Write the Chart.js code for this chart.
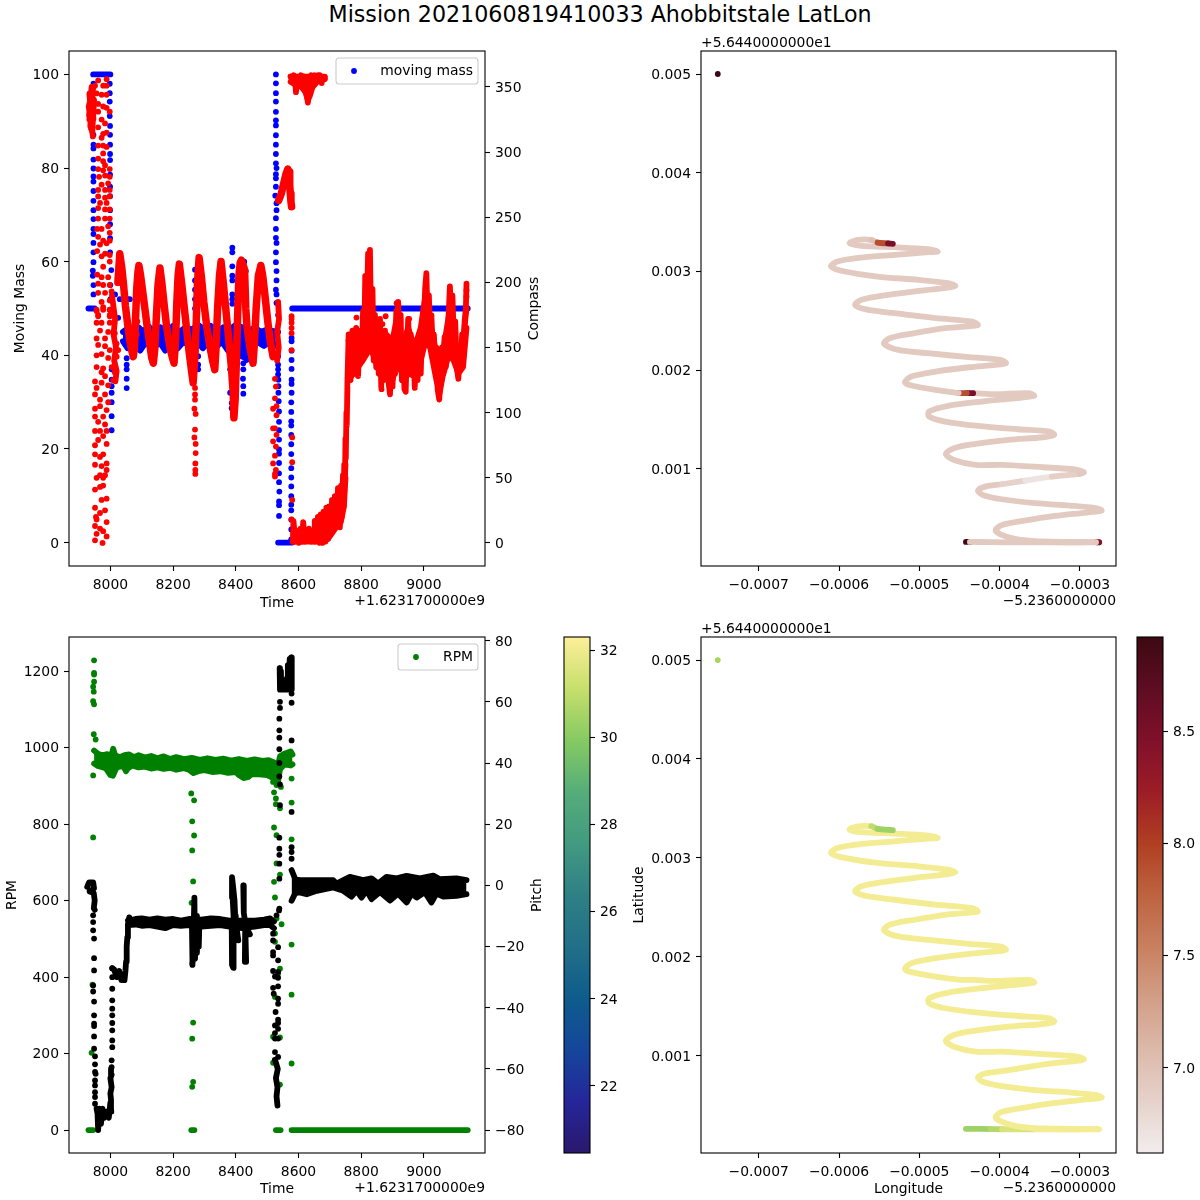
<!DOCTYPE html>
<html>
<head>
<meta charset="utf-8">
<script src="https://cdn.jsdelivr.net/npm/chart.js@4/dist/chart.umd.js"></script>
<style>
  body { margin: 0; background: #fff; width: 1200px; height: 1200px; position: relative; overflow: hidden; }
  canvas { position: absolute; }
  #title { position: absolute; left: 0; width: 1200px; top: 1px; text-align: center; font: 22.2px "DejaVu Sans"; color: #000; }
</style>
</head>
<body>
<div id="title">Mission 2021060819410033 Ahobbitstale LatLon</div>
<canvas id="massChart" style="left:0;top:30px" width="560" height="584"></canvas>
<canvas id="trackAmpChart" style="left:600px;top:30px" width="530" height="584"></canvas>
<canvas id="rpmChart" style="left:0;top:616px" width="560" height="584"></canvas>
<canvas id="haleBar" style="left:556px;top:616px" width="100" height="584"></canvas>
<canvas id="trackHaleChart" style="left:600px;top:616px" width="530" height="584"></canvas>
<canvas id="ampBar" style="left:1129px;top:616px" width="71" height="584"></canvas>
<script>
// ticks
const timeTicks = [8000, 8200, 8400, 8600, 8800, 9000];
const timeTickLabels = ['8000', '8200', '8400', '8600', '8800', '9000'];
const massTicks = [0, 20, 40, 60, 80, 100];
const massTickLabels = ['0', '20', '40', '60', '80', '100'];
const compassTicks = [0, 50, 100, 150, 200, 250, 300, 350];
const compassTickLabels = ['0', '50', '100', '150', '200', '250', '300', '350'];
const rpmTicks = [0, 200, 400, 600, 800, 1000, 1200];
const rpmTickLabels = ['0', '200', '400', '600', '800', '1000', '1200'];
const pitchTicks = [-80, -60, -40, -20, 0, 20, 40, 60, 80];
const pitchTickLabels = ['−80', '−60', '−40', '−20', '0', '20', '40', '60', '80'];
// lon and lat are kept in millionths of a degree from the axis offsets
const lonTicks = [-700, -600, -500, -400, -300];
const lonTickLabels = ['−0.0007', '−0.0006', '−0.0005', '−0.0004', '−0.0003'];
const latTicks = [1000, 2000, 3000, 4000, 5000];
const latTickLabels = ['0.001', '0.002', '0.003', '0.004', '0.005'];
const haleTicks = [22, 24, 26, 28, 30, 32];
const haleTickLabels = ['22', '24', '26', '28', '30', '32'];
const ampTicks = [7, 7.5, 8, 8.5];
const ampTickLabels = ['7.0', '7.5', '8.0', '8.5'];

// moving mass, [time, percent]
const massStart = [[7930, 50], [7950, 50]];
const massTop = [[7945, 100], [8000, 100]];
const massColumnA = [[7946, 98], [7946, 87.1], [7946, 85], [7946, 84.2], [7946, 81.8], [7946, 79.9], [7946, 78.2], [7946, 77.1], [7946, 75.1], [7946, 73], [7946, 71], [7946, 69.1], [7946, 67], [7946, 65.9], [7946, 64], [7946, 62], [7946, 59.9], [7944, 58.1], [7944, 57], [7946, 55], [7946, 53]];
const massColumnB = [[7998, 98], [7998, 96], [7998, 94.2], [7998, 91.1], [7999, 89], [7999, 87.1], [7999, 85], [7999, 83], [7999, 81.7], [7999, 78.6], [7999, 76], [7999, 74], [7999, 71], [7999, 68], [7999, 65], [7999, 62], [8003, 58.2], [8000, 55], [8000, 52], [8004, 37], [8004, 34.8], [8004, 33.4], [8004, 32], [8004, 30], [8004, 27], [8004, 24]];
const massScatter = [[8015, 53], [8030, 52], [8045, 53], [8055, 52], [8062, 52], [8050, 50], [8025, 48], [8052, 39.4], [8052, 38], [8052, 37], [8052, 35], [8052, 33], [8270, 58.3], [8270, 56], [8270, 54], [8270, 52], [8270, 50], [8280, 39.8], [8280, 38], [8280, 37], [8389, 63], [8389, 62], [8389, 59], [8389, 57], [8389, 56], [8389, 53], [8389, 52], [8389, 51], [8427, 60], [8432, 58], [8430, 56], [8432, 52], [8382, 39], [8382, 37], [8387, 34.8], [8382, 32], [8387, 29.8], [8387, 28.7], [8392, 27.3], [8423, 39.8], [8424, 38.3], [8424, 37], [8423, 35], [8424, 33.4], [8424, 31.8], [8434, 39]];
const massBandTop = [[8040, 45], [8060, 46], [8075, 45], [8090, 46], [8105, 45], [8120, 46.3], [8140, 45], [8160, 46], [8180, 45], [8200, 46.3], [8220, 45], [8240, 46], [8260, 45.5], [8280, 46.5], [8300, 45.5], [8320, 46.3], [8340, 45], [8360, 46], [8380, 45.5], [8400, 46.5], [8420, 46], [8440, 45], [8460, 46], [8480, 45], [8500, 45.5], [8530, 45]];
const massBandBottom = [[8040, 43], [8055, 41.5], [8075, 43], [8095, 41], [8115, 43], [8135, 41], [8155, 43], [8175, 41], [8195, 43], [8215, 41.5], [8235, 43], [8255, 42], [8275, 43], [8295, 41.5], [8315, 43], [8335, 41.5], [8355, 43], [8375, 41], [8395, 42], [8410, 40], [8430, 39.5], [8445, 40], [8465, 43], [8490, 42], [8510, 43], [8530, 42.5]];
const massColumnC = [[8528, 100], [8528, 98.1], [8528, 96], [8528, 94.2], [8528, 92], [8528, 90.2], [8528, 89.1], [8528, 87], [8528, 85], [8528, 83], [8528, 81], [8530, 80], [8528, 78.7], [8528, 77.8], [8528, 76], [8526, 74.1], [8530, 72.5], [8530, 71], [8528, 69.3], [8528, 67], [8528, 65.1], [8530, 64], [8528, 62], [8528, 59.9], [8530, 58], [8530, 56], [8528, 54], [8530, 53], [8530, 51.2]];
const massColumnD = [[8535, 48.6], [8535, 45], [8530, 42], [8535, 39.8], [8535, 38], [8535, 37], [8535, 35.9], [8536, 34.8], [8536, 33.4], [8536, 32], [8537, 30.2], [8538, 28], [8538, 25.8], [8538, 24], [8538, 22], [8538, 19.9], [8538, 19], [8538, 17], [8538, 14.8], [8538, 12.9], [8539, 10.9], [8538, 8.8], [8538, 8], [8538, 5.7]];
const massFloor = [[8535, 0], [8580, 0]];
const massColumnE = [[8578, 43.7], [8578, 43], [8578, 41], [8578, 39], [8578, 37.1], [8578, 34.8], [8578, 33.9], [8578, 32], [8577, 29.95], [8577, 27.9], [8577, 25.9], [8577, 25], [8577, 23], [8577, 21], [8577, 18.9], [8577, 15.9], [8577, 13.9], [8577, 12], [8577, 9.9], [8577, 8.1], [8577, 6.9], [8577, 4.9], [8577, 2.8], [8577, 0.7]];
const massHold = [[8580, 50], [9140, 50]];

// compass, [time, degrees]
const compassCluster = [[7936, 320], [7940, 346], [7933, 325], [7945, 349], [7931, 335], [7942, 315], [7948, 340], [7933, 345], [7938, 330], [7944, 312], [7934, 338], [7946, 325], [7940, 350], [7932, 328], [7944, 332], [7938, 318]];
const compassScatter = [[7961, 355], [7988, 356], [7951, 351], [7977, 351], [7988, 351], [7956, 345], [7972, 344], [7988, 344], [7961, 337], [7977, 335], [7988, 334], [7961, 331], [7998, 331], [7972, 325], [7983, 322], [7961, 319], [7977, 314], [7988, 315], [7972, 311], [7961, 305], [7977, 305], [7988, 304], [7977, 299], [7961, 295], [7977, 293], [7983, 290], [7961, 287], [7977, 286], [7998, 287], [7964, 281], [7983, 282], [7998, 281], [7972, 275], [7993, 276], [7961, 271], [7983, 271], [7998, 271], [7961, 266], [7983, 265], [7998, 266], [7967, 261], [7988, 261], [7961, 257], [7983, 256], [7998, 256], [7961, 249], [7983, 249], [7998, 249], [7993, 243], [7958, 241], [7972, 241], [7998, 238], [7961, 235], [7977, 232], [7998, 232], [7967, 229], [7988, 230], [7958, 224], [7983, 222], [7998, 221], [7972, 220], [7998, 216], [7977, 212], [7958, 206], [7972, 204], [7993, 204], [7961, 199], [7977, 198], [7998, 198], [7961, 192], [7983, 192], [8004, 193], [7972, 185], [7998, 186], [7956, 178], [7977, 181], [7998, 179], [7961, 174], [7998, 174],
  [7956, 179], [7977, 179], [7998, 179], [7961, 175], [7998, 175], [7956, 169], [7972, 169], [7998, 169], [7967, 163], [7993, 162], [7956, 157], [7983, 157], [8014, 161], [7961, 152], [7983, 151], [8020, 153], [7972, 145], [7998, 148], [8025, 148], [7956, 144], [7993, 142], [7956, 135], [7977, 134], [8020, 143], [7972, 131], [8004, 135], [7983, 128], [8014, 131], [7951, 124], [7972, 123], [8009, 125], [7956, 119], [7993, 121], [7951, 114], [7983, 114], [7967, 110], [7993, 108], [7951, 103], [7967, 105], [7988, 102], [7951, 97], [7977, 97], [7961, 93], [7983, 91], [7951, 86], [7967, 86], [7988, 86], [7977, 82], [7961, 79], [7951, 75], [7988, 76], [7951, 68], [7977, 68], [7967, 66], [7988, 61], [7951, 60], [7972, 59], [7967, 52], [7988, 56], [7956, 50], [7977, 50], [7983, 52], [7951, 41], [7967, 43], [7977, 44], [7972, 33], [7988, 34], [7951, 27], [7983, 25], [7967, 23], [7954, 20], [7956, 18], [7988, 16], [7951, 13], [7967, 11], [7956, 7], [7977, 9], [7988, 5], [7951, 2], [7975, 0]];
const compassEarlyFall = [[8005, 190], [8015, 172], [8010, 160], [8018, 150], [8012, 140], [8020, 132], [8016, 124]];
const compassWaves = [[8024, 200], [8030, 222], [8036, 212], [8042, 198], [8048, 182], [8055, 168], [8062, 155], [8068, 148], [8073, 143], [8077, 150], [8080, 170], [8084, 195], [8088, 208], [8091, 213], [8096, 206], [8102, 195], [8110, 180], [8118, 165], [8126, 152], [8132, 142], [8137, 138], [8142, 150], [8147, 175], [8152, 198], [8158, 211], [8164, 200], [8172, 182], [8180, 165], [8190, 150], [8198, 142], [8203, 138], [8208, 155], [8212, 185], [8216, 205], [8220, 214], [8228, 198], [8236, 180], [8245, 160], [8252, 145], [8260, 130], [8264, 123], [8270, 145], [8274, 170], [8278, 200], [8283, 219], [8290, 205], [8298, 185], [8308, 165], [8318, 150], [8326, 140], [8333, 133], [8337, 150], [8342, 180], [8348, 205], [8353, 216], [8360, 200], [8368, 180], [8378, 155], [8386, 135], [8392, 115], [8394, 96], [8398, 110], [8402, 140], [8406, 175], [8410, 205], [8414, 215], [8418, 217], [8428, 210], [8432, 180], [8436, 165], [8445, 150], [8455, 138], [8460, 155], [8465, 180], [8472, 205], [8480, 213], [8486, 205], [8494, 188], [8502, 170], [8510, 155], [8519, 143]];
const compassSpikeDots = [[8270, 119], [8270, 114], [8270, 110], [8268, 103], [8272, 99], [8270, 87], [8268, 81], [8272, 76], [8272, 69], [8271, 61], [8271, 56], [8271, 53], [8086, 190], [8084, 185], [8086, 170], [8084, 160], [8150, 195], [8148, 180], [8146, 170], [8146, 160]];
const compassFallDots = [[8525, 126], [8528, 120], [8525, 111], [8530, 105], [8519, 103], [8530, 98], [8525, 88], [8519, 88], [8530, 83], [8519, 78], [8528, 74], [8525, 67], [8519, 61], [8528, 56], [8525, 53], [8525, 51]];
const compassReturn = [[8535, 185], [8538, 172], [8532, 162], [8537, 150], [8532, 140]];
const compassHump = [[8537, 263], [8545, 268], [8552, 275], [8560, 283], [8566, 287], [8570, 285], [8572, 275], [8574, 268], [8576, 262], [8578, 258]];
const compassPeakTop = [[8575, 358], [8580, 354], [8585, 359], [8590, 352], [8592, 346], [8596, 358], [8602, 353], [8608, 359], [8612, 350], [8618, 358], [8622, 350], [8626, 345], [8630, 338], [8633, 345], [8636, 352], [8640, 359], [8646, 352], [8652, 359], [8656, 354], [8662, 359], [8668, 359], [8674, 357], [8684, 357]];
const compassPeakUpper = [[8575, 358], [8684, 358]];
const compassPeakLower = [[8575, 354], [8595, 351], [8610, 350], [8622, 346], [8630, 340], [8636, 343], [8645, 350], [8660, 354], [8684, 356]];
const compassDropDots = [[8578, 174], [8578, 172], [8578, 169], [8578, 165], [8578, 161], [8578, 148], [8580, 81], [8580, 62], [8580, 33], [8578, 18], [8674, 353], [8785, 173], [8878, 174], [8868, 168], [8865, 118], [8953, 172], [8913, 184], [9136, 194], [9136, 189]];
const compassClimb = [[8582, 1], [8584, 17], [8590, 1], [8595, 9], [8601, 0], [8606, 11], [8612, 1], [8615, 16], [8621, 1], [8625, 9], [8631, 2], [8634, 11], [8640, 1], [8644, 6], [8650, 1], [8652, 17], [8658, 1], [8662, 20], [8668, 0], [8671, 22], [8677, 0], [8680, 24], [8686, 1], [8689, 27], [8695, 3], [8698, 28], [8704, 8], [8707, 33], [8713, 13], [8716, 36], [8722, 14], [8726, 42], [8732, 12], [8736, 44], [8738, 20], [8742, 52], [8744, 28], [8746, 60], [8748, 45], [8750, 80], [8751, 65], [8753, 100], [8754, 90], [8756, 120]];
const compassClimbUpper = [[8582, 3], [8610, 5], [8650, 4], [8670, 8], [8690, 12], [8710, 18], [8730, 26], [8745, 38], [8750, 60]];
const compassClimbLower = [[8582, 1], [8650, 1], [8680, 2], [8700, 5], [8720, 12], [8735, 16], [8745, 28], [8750, 50]];
const compassTail = [[8756, 122], [8760, 160], [8766, 125], [8772, 163], [8778, 130], [8784, 165], [8790, 128], [8796, 163], [8802, 145], [8806, 178], [8810, 160], [8813, 205], [8817, 168], [8822, 222], [8826, 175], [8828, 225], [8832, 160], [8836, 195], [8840, 140], [8844, 175], [8848, 135], [8852, 168], [8856, 130], [8860, 172], [8864, 120], [8868, 155], [8872, 125], [8876, 163], [8880, 128], [8884, 158], [8888, 122], [8892, 114], [8896, 150], [8900, 120], [8904, 160], [8908, 130], [8912, 178], [8916, 150], [8918, 185], [8922, 145], [8926, 175], [8930, 125], [8934, 150], [8938, 118], [8942, 116], [8946, 150], [8950, 172], [8954, 140], [8958, 160], [8962, 135], [8966, 155], [8971, 119], [8975, 150], [8980, 125], [8985, 160], [8990, 130], [8995, 170], [9000, 165], [9004, 195], [9008, 207], [9012, 170], [9016, 190], [9020, 160], [9024, 175], [9028, 150], [9032, 160], [9036, 135], [9040, 150], [9044, 118], [9049, 110], [9053, 125], [9058, 150], [9062, 130], [9066, 158], [9070, 135], [9076, 160], [9080, 180], [9083, 197], [9087, 175], [9091, 190], [9096, 155], [9100, 170], [9105, 135], [9110, 126], [9114, 150], [9118, 135], [9122, 160], [9126, 145], [9130, 170], [9134, 180], [9136, 199]];
const compassBodyUpper = [[8760, 155], [8805, 160], [8830, 170], [8860, 160], [8880, 160], [8900, 155], [8915, 175], [8930, 150], [8950, 165], [8970, 150], [8990, 165], [9005, 190], [9020, 170], [9040, 145], [9050, 125], [9060, 145], [9080, 175], [9095, 160], [9110, 140], [9125, 155], [9136, 180]];
const compassBodyLower = [[8760, 125], [8805, 140], [8830, 150], [8860, 130], [8880, 130], [8900, 125], [8915, 140], [8930, 130], [8950, 130], [8970, 128], [8990, 140], [9005, 155], [9020, 150], [9040, 125], [9050, 115], [9060, 128], [9080, 145], [9095, 140], [9110, 130], [9125, 135], [9136, 165]];

// rpm, [time, rpm]
const rpmDots = [[7948, 1228], [7948, 1195], [7948, 1191], [7948, 1172], [7945, 1159], [7947, 1146], [7945, 1121], [7948, 1113], [7947, 1035], [7953, 1021], [7945, 927], [7945, 765], [8258, 880], [8267, 862], [8261, 807], [8267, 770], [8261, 731], [8264, 650], [8259, 594], [8522, 883], [8528, 867], [8528, 852], [8541, 841], [8522, 791], [8530, 771], [8578, 919], [8578, 856], [8578, 760], [8522, 649], [8525, 608], [8530, 697], [8541, 668], [8544, 897],
  [7943, 380], [7940, 202], [8261, 435], [8264, 281], [8261, 239], [8264, 126], [8261, 113], [8525, 348], [8519, 244], [8519, 176], [8541, 242], [8541, 119], [8541, 422], [8578, 485], [8578, 354], [8578, 174], [8530, 553], [8546, 538], [8525, 514], [8525, 492], [8535, 409], [8519, 910], [8530, 902]];
const rpmFloorA = [[7930, 0], [7945, 0]];
const rpmFloorB = [[8258, 0], [8268, 0]];
const rpmFloorC = [[8528, 0], [8543, 0]];
const rpmFloorD = [[8578, 0], [9140, 0]];
const rpmBandTop = [[7948, 992], [7960, 984], [7975, 980], [7990, 983], [8003, 978], [8009, 997], [8015, 980], [8030, 975], [8045, 980], [8060, 982], [8075, 975], [8090, 980], [8110, 974], [8130, 978], [8150, 972], [8170, 977], [8190, 970], [8210, 975], [8235, 970], [8260, 973], [8285, 968], [8310, 972], [8335, 968], [8360, 971], [8385, 966], [8410, 970], [8435, 965], [8460, 969], [8485, 965], [8505, 967], [8520, 962], [8535, 955], [8541, 977], [8555, 984], [8575, 990], [8581, 982]];
const rpmBandBottom = [[7948, 958], [7960, 952], [7985, 946], [8000, 928], [8008, 926], [8020, 948], [8040, 952], [8050, 938], [8056, 946], [8070, 953], [8090, 948], [8110, 950], [8130, 945], [8150, 948], [8170, 944], [8190, 947], [8210, 942], [8235, 946], [8250, 942], [8265, 933], [8280, 938], [8300, 941], [8325, 936], [8350, 938], [8375, 934], [8400, 936], [8410, 928], [8425, 920], [8440, 923], [8450, 930], [8475, 930], [8500, 928], [8520, 920], [8535, 912], [8541, 943], [8555, 956], [8575, 953], [8581, 956]];

// pitch, [time, degrees]
const pitchStart = [[7926, -0.5], [7932, 1], [7945, 1], [7948, -1], [7934, -2], [7947, -2.5], [7950, -5], [7947, -7.5], [7950, -8]];
const pitchDiveDots = [[7945, -9.8], [7945, -12], [7945, -14.7], [7948, -17.4], [7948, -23.8], [7948, -27.8], [7945, -32.7], [7945, -34.7], [7948, -38], [7948, -42.5], [7948, -45.2], [7948, -46], [7948, -49.4], [7948, -53.4], [7951, -55.9], [7951, -58.5], [7951, -61], [7953, -61.6], [7951, -63.8], [7951, -65.4], [7951, -67.6], [7951, -69.2], [7951, -71.4]];
const pitchTrough = [[7956, -73], [7959, -74.7], [7961, -80], [7965, -73], [7970, -78], [7975, -73], [7980, -76], [7988, -74], [7995, -76], [8000, -71], [8003, -74], [8002, -70], [8000, -68], [8004, -66], [8000, -63], [8004, -62], [8002, -60]];
const pitchRiseDots = [[8004, -59.4], [8004, -57.2], [8006, -52.9], [8006, -50.7], [8006, -47.4], [8006, -45], [8006, -42.5], [8006, -40.3], [8006, -37.6], [8006, -33.8], [8006, -30], [8006, -27.2]];
const pitchStep = [[8006, -27], [8012, -27.5], [8020, -30], [8028, -28], [8035, -31], [8045, -31], [8048, -28], [8050, -25], [8052, -20], [8054, -17], [8056, -13], [8060, -10.5]];
const pitchBandTop = [[8056, -11.5], [8080, -11], [8100, -10.8], [8125, -11.2], [8150, -10.8], [8175, -11.2], [8200, -11], [8225, -11.5], [8250, -11], [8290, -11.2], [8320, -10.8], [8350, -11], [8380, -11.5], [8420, -11.5], [8460, -11.5], [8490, -11.2], [8510, -10.8], [8522, -11.8]];
const pitchBandBottom = [[8056, -13], [8080, -12.8], [8100, -13.2], [8125, -13], [8150, -13.5], [8175, -14], [8200, -13], [8225, -13.2], [8250, -13], [8290, -13.5], [8320, -13.2], [8350, -13], [8380, -13.5], [8420, -14], [8460, -13.5], [8490, -13], [8510, -13], [8522, -14]];
const pitchSpikeA = [[8260, -12], [8262, -26], [8266, -12], [8268, -4], [8270, -24], [8274, -10], [8276, -22], [8280, -12], [8282, -20], [8284, -12]];
const pitchSpikeB = [[8387, -12], [8388, -26], [8392, -27], [8393, -10], [8390, -4], [8388, 2.7], [8392, -1], [8396, -5], [8398, -10], [8400, -14], [8404, -15], [8408, -18]];
const pitchSpikeC = [[8424, 0], [8426, -4], [8425, -9], [8430, -12], [8433, -25], [8429, -25], [8430, -14], [8440, -15], [8445, -16]];
const pitchFallDots = [[8538, -8.2], [8530, -9.8], [8519, -15.8], [8519, -18], [8535, -20.2], [8519, -21.8], [8519, -22.9], [8535, -24.5], [8519, -28], [8525, -29.8], [8535, -28.3], [8535, -30.2], [8519, -33.5], [8535, -33], [8521, -35.4], [8535, -37], [8535, -38.7], [8527, -41.4], [8535, -43.9], [8535, -45], [8525, -45.8], [8525, -48.3], [8535, -46.9], [8525, -50.1], [8535, -50.1], [8525, -54.5], [8535, -56.1]];
const pitchFallEnd = [[8525, -57], [8534, -60], [8528, -63], [8533, -66], [8530, -69], [8533, -72]];
const pitchClimbDots = [[8541, 60], [8541, 58], [8539, 54.5], [8539, 50.7], [8539, 48.3], [8539, 44.5], [8539, 40], [8539, 35.6], [8541, 33], [8541, 26.2], [8539, 15.6], [8539, 12], [8539, 10], [8539, 7.1], [8539, 2.2], [8539, -7.6], [8578, 62.7], [8578, 59.7], [8578, 47.4], [8578, 24], [8578, 12.5], [8578, 10.9], [8578, 8.7]];
const pitchPeak = [[8540, 71], [8541, 64], [8544, 70], [8545, 64], [8552, 67], [8553, 64], [8558, 67], [8559, 64], [8564, 68], [8566, 72], [8568, 64], [8572, 74], [8574, 65], [8577, 74.5], [8578, 64], [8579, 74]];
const pitchTailTop = [[8578, 5], [8590, 2], [8604, 1.7], [8711, 1.7], [8721, 0.6], [8764, 2.8], [8806, 1.7], [8833, 2.3], [8854, 0.6], [8881, 2.8], [8913, 2.3], [8945, 3.1], [8987, 2.3], [9030, 3.2], [9051, 2], [9104, 2.3], [9136, 1.7]];
const pitchTailBottom = [[8578, -5], [8590, -2.5], [8604, -2.3], [8626, -2.9], [8658, -1.8], [8711, -0.7], [8743, -1.8], [8769, -3.7], [8785, -1.7], [8801, -4], [8817, -1.7], [8833, -4.5], [8860, -2.2], [8892, -5], [8918, -2.7], [8945, -5.6], [8961, -2.7], [8977, -4], [9003, -2.2], [9024, -5.6], [9040, -2.7], [9062, -3.7], [9104, -3.4], [9136, -2.9]];

// glider track, millionths of a degree
const trackLon = [-442, -437, -411, -397, -356, -313, -279, -276, -280, -313,
  -356, -381, -399, -405, -397, -371, -331, -292, -273, -279,
  -313, -356, -397, -421, -427, -418, -397, -368, -335, -301,
  -295, -305, -346, -397, -430, -455, -467, -457, -430, -389,
  -346, -332, -338, -377, -427, -468, -488, -488, -464, -422,
  -381, -357, -363, -405, -431, -433, -441, -451, -480, -510,
  -518, -510, -480, -438, -405, -392, -399, -438, -489, -526,
  -544, -537, -506, -468, -434, -427, -434, -480, -531, -568,
  -580, -572, -539, -497, -464, -455, -464, -501, -552, -593,
  -610, -602, -572, -531, -489, -477, -489, -531, -572, -587,
  -576, -560, -552, -539, -533];
const trackLat = [261, 261, 259, 257, 257, 254, 257, 257, 259, 261,
  268, 291, 338, 382, 433, 474, 524, 558, 578, 602,
  629, 653, 693, 737, 781, 821, 845, 882, 923, 950,
  967, 994, 1017, 1041, 1041, 1085, 1149, 1210, 1254, 1294,
  1321, 1345, 1379, 1402, 1436, 1480, 1531, 1581, 1639, 1683,
  1716, 1740, 1767, 1757, 1767, 1767, 1767, 1769, 1801, 1845,
  1878, 1936, 1986, 2030, 2054, 2071, 2105, 2132, 2172, 2206,
  2267, 2324, 2375, 2425, 2449, 2459, 2493, 2527, 2577, 2618,
  2662, 2713, 2763, 2807, 2837, 2854, 2881, 2915, 2949, 3000,
  3050, 3101, 3141, 3168, 3195, 3202, 3226, 3246, 3260, 3287,
  3320, 3320, 3293, 3284, 3280];
const trackAmp = [8.9, 6.92, 6.92, 6.92, 6.92, 6.92, 8.3, 8.4, 6.92, 6.92,
  6.92, 6.92, 6.92, 6.92, 6.92, 6.92, 6.92, 6.92, 6.92, 6.92,
  6.92, 6.92, 6.92, 6.92, 6.92, 6.92, 6.85, 6.7, 6.88, 6.92,
  6.92, 6.92, 6.92, 6.92, 6.92, 6.92, 6.92, 6.92, 6.92, 6.92,
  6.92, 6.92, 6.92, 6.92, 6.92, 6.92, 6.92, 6.92, 6.92, 6.92,
  6.92, 6.92, 6.92, 6.92, 6.92, 8.5, 7.9, 6.92, 6.92, 6.92,
  6.92, 6.92, 6.92, 6.92, 6.92, 6.92, 6.92, 6.92, 6.92, 6.92,
  6.92, 6.92, 6.92, 6.92, 6.92, 6.92, 6.92, 6.92, 6.92, 6.92,
  6.92, 6.92, 6.92, 6.92, 6.92, 6.92, 6.92, 6.92, 6.92, 6.92,
  6.92, 6.92, 6.92, 6.92, 6.92, 6.92, 6.92, 6.92, 6.92, 6.92,
  6.92, 7.0, 7.9, 8.5, 8.9];
const trackHale = [30.4, 30.4, 30.8, 31.5, 32.1, 32.1, 32.1, 32.1, 32.1, 32.1,
  32.1, 32.1, 32.1, 32.1, 32.1, 32.1, 32.1, 32.1, 32.1, 32.1,
  32.1, 32.1, 32.1, 32.1, 32.1, 32.1, 32.1, 32.1, 32.1, 32.1,
  32.1, 32.1, 32.1, 32.1, 32.1, 32.1, 32.1, 32.1, 32.1, 32.1,
  32.1, 32.1, 32.1, 32.1, 32.1, 32.1, 32.1, 32.1, 32.1, 32.1,
  32.1, 32.1, 32.1, 32.1, 32.1, 32.1, 32.1, 32.1, 32.1, 32.1,
  32.1, 32.1, 32.1, 32.1, 32.1, 32.1, 32.1, 32.1, 32.1, 32.1,
  32.1, 32.1, 32.1, 32.1, 32.1, 32.1, 32.1, 32.1, 32.1, 32.1,
  32.1, 32.1, 32.1, 32.1, 32.1, 32.1, 32.1, 32.1, 32.1, 32.1,
  32.1, 32.1, 32.1, 32.1, 32.1, 32.1, 32.1, 32.1, 32.1, 32.1,
  32.1, 31, 30.4, 30.4, 30.4];
const trackStart = [[-751, 5000]];

// colormaps, bottom to top of the colorbars
const ampRange = [6.62, 8.92];
const ampStops = ['#f1edec', '#e6d2cb', '#dcb9aa', '#d29e87', '#c8805f', '#bd6340', '#b03f22', '#9c1d26', '#80102a', '#5e0d22', '#3c0912'];
const haleRange = [20.46, 32.3];
const haleStops = ['#2a186c', '#25269a', '#15469b', '#0e5c8c', '#226f88', '#2f8085', '#429a81', '#55ad7a', '#86ca62', '#c6df6c', '#fdef9a'];

Chart.defaults.font.family = 'DejaVu Sans';
Chart.defaults.font.size = 13.9;
Chart.defaults.color = '#000';

const BLUE = '#0000ff', RED = '#ff0000', GREEN = '#008000', BLACK = '#000000';
const xy = (pairs) => pairs.map(([x, y]) => ({ x, y }));

function dots(pairs, color, axis) {
    return { data: xy(pairs), yAxisID: axis, showLine: false, pointRadius: 2.9, pointBorderWidth: 0, pointBackgroundColor: color, borderColor: color };
}
function strand(pairs, color, axis, width = 5.8) {
    return { data: xy(pairs), yAxisID: axis, pointRadius: 0, borderColor: color, borderWidth: width, borderCapStyle: 'round', borderJoinStyle: 'round', tension: 0 };
}
// solid band between two envelopes, used where the dots overlap into one block
function band(top, bottom, color, axis) {
    return [
        { ...strand(top, color, axis), fill: '+1', backgroundColor: color },
        strand(bottom, color, axis)
    ];
}
// later datasets sit on top, like matplotlib's drawing order
function stack(list) {
    return list.flat().map((d, i) => ({ ...d, order: -i }));
}

function colorAt(stops, range, value) {
    const f = Math.min(1, Math.max(0, (value - range[0]) / (range[1] - range[0]))) * (stops.length - 1);
    const i = Math.min(stops.length - 2, Math.floor(f));
    const a = parseInt(stops[i].slice(1), 16), b = parseInt(stops[i + 1].slice(1), 16), t = f - i;
    const mix = (s) => Math.round(((a >> s) & 255) * (1 - t) + ((b >> s) & 255) * t);
    return `rgb(${mix(16)},${mix(8)},${mix(0)})`;
}

function axis(position, min, max, tickValues, tickLabels, size, titleText, titlePad) {
    const horizontal = position === 'bottom';
    return {
        type: 'linear', position, min, max,
        afterBuildTicks: (scale) => { scale.ticks = tickValues.map((value) => ({ value })); },
        afterFit: (scale) => {
            if (horizontal) scale.height = size; else scale.width = size;
            scale.paddingTop = scale.paddingBottom = scale.paddingLeft = scale.paddingRight = 0;
        },
        ticks: { autoSkip: false, maxRotation: 0, minRotation: 0, padding: horizontal ? 6 : 5, labelOffset: horizontal ? 0 : 1.3, color: '#000', callback: (v, i) => tickLabels[i] },
        grid: { drawOnChartArea: false, drawTicks: true, tickLength: 5, tickColor: '#000', tickWidth: 1.1, color: '#000' },
        border: { display: false },
        title: titleText ? { display: true, text: titleText, color: '#000', padding: horizontal ? { top: 0, bottom: titlePad } : { top: titlePad, bottom: 0 } } : { display: false }
    };
}

// frame, legend, offset text and the upward reading right axis title
const panelNotes = {
    id: 'panelNotes',
    afterDraw(chart, args, opts) {
        const { ctx, chartArea: a } = chart;
        ctx.save();
        ctx.strokeStyle = '#000';
        ctx.lineWidth = 1.1;
        ctx.strokeRect(a.left, a.top, a.right - a.left, a.bottom - a.top);
        ctx.fillStyle = '#000';
        ctx.font = '13.9px "DejaVu Sans"';
        ctx.textBaseline = 'middle';
        (opts.offsets || []).forEach((o) => {
            ctx.textAlign = o.align;
            ctx.fillText(o.text, o.align === 'right' ? a.right : a.left, o.above ? a.top - 8 : a.bottom + 35);
        });
        if (opts.rightTitle) {
            ctx.save();
            ctx.translate(a.right + opts.rightTitle.gap, (a.top + a.bottom) / 2);
            ctx.rotate(-Math.PI / 2);
            ctx.textAlign = 'center';
            ctx.fillText(opts.rightTitle.text, 0, 0);
            ctx.restore();
        }
        if (opts.legend) {
            const w = opts.legend.width, h = 26, x = a.right - 7 - w, y = a.top + 7;
            ctx.beginPath();
            ctx.roundRect(x, y, w, h, 3);
            ctx.fillStyle = 'rgba(255,255,255,0.8)';
            ctx.fill();
            ctx.strokeStyle = '#cccccc';
            ctx.lineWidth = 1.1;
            ctx.stroke();
            ctx.fillStyle = opts.legend.color;
            ctx.beginPath();
            ctx.arc(x + 18, y + 13, 2.9, 0, Math.PI * 2);
            ctx.fill();
            ctx.fillStyle = '#000';
            ctx.textAlign = 'right';
            ctx.fillText(opts.legend.text, x + w - 5, y + 13);
        }
        ctx.restore();
    }
};

function panel(id, datasets, scales, padding, notes) {
    return new Chart(document.getElementById(id), {
        type: 'line',
        data: { datasets },
        options: {
            responsive: false, animation: false,
            layout: { padding },
            scales,
            plugins: { legend: { display: false }, tooltip: { enabled: false }, panelNotes: notes }
        },
        plugins: [panelNotes]
    });
}

const timeOffset = { text: '+1.6231700000e9', align: 'right' };

panel('massChart', stack([
    strand(massStart, BLUE, 'y'), strand(massTop, BLUE, 'y'),
    dots(massColumnA, BLUE, 'y'), dots(massColumnB, BLUE, 'y'), dots(massScatter, BLUE, 'y'),
    band(massBandTop, massBandBottom, BLUE, 'y'),
    dots(massColumnC, BLUE, 'y'), dots(massColumnD, BLUE, 'y'), strand(massFloor, BLUE, 'y'),
    dots(massColumnE, BLUE, 'y'), strand(massHold, BLUE, 'y'),
    strand(compassCluster, RED, 'y2'), dots(compassScatter, RED, 'y2'), strand(compassEarlyFall, RED, 'y2'),
    strand(compassWaves, RED, 'y2', 7.5), dots(compassSpikeDots, RED, 'y2'), dots(compassFallDots, RED, 'y2'),
    strand(compassReturn, RED, 'y2'), strand(compassHump, RED, 'y2', 7.5), strand(compassPeakTop, RED, 'y2'),
    band(compassPeakUpper, compassPeakLower, RED, 'y2'),
    dots(compassDropDots, RED, 'y2'), strand(compassClimb, RED, 'y2'), band(compassClimbUpper, compassClimbLower, RED, 'y2'),
    strand(compassTail, RED, 'y2'), band(compassBodyUpper, compassBodyLower, RED, 'y2')
]), {
    x: axis('bottom', 7868, 9195, timeTicks, timeTickLabels, 48, 'Time', 2.7),
    y: axis('left', -5, 105, massTicks, massTickLabels, 69, 'Moving Mass', 12),
    y2: axis('right', -17.7, 377.6, compassTicks, compassTickLabels, 75)
}, { top: 21, left: 0, right: 0, bottom: 0 }, {
    offsets: [timeOffset],
    rightTitle: { text: 'Compass', gap: 49 },
    legend: { text: 'moving mass', color: BLUE, width: 142 }
});

panel('rpmChart', stack([
    dots(rpmDots, GREEN, 'y'), strand(rpmFloorA, GREEN, 'y'), strand(rpmFloorB, GREEN, 'y'),
    strand(rpmFloorC, GREEN, 'y'), strand(rpmFloorD, GREEN, 'y'),
    band(rpmBandTop, rpmBandBottom, GREEN, 'y'),
    strand(pitchStart, BLACK, 'y2'), dots(pitchDiveDots, BLACK, 'y2'), strand(pitchTrough, BLACK, 'y2'),
    dots(pitchRiseDots, BLACK, 'y2'), strand(pitchStep, BLACK, 'y2'),
    band(pitchBandTop, pitchBandBottom, BLACK, 'y2'),
    strand(pitchSpikeA, BLACK, 'y2'), strand(pitchSpikeB, BLACK, 'y2'), strand(pitchSpikeC, BLACK, 'y2'),
    dots(pitchFallDots, BLACK, 'y2'), strand(pitchFallEnd, BLACK, 'y2'), dots(pitchClimbDots, BLACK, 'y2'),
    strand(pitchPeak, BLACK, 'y2'), band(pitchTailTop, pitchTailBottom, BLACK, 'y2')
]), {
    x: axis('bottom', 7868, 9195, timeTicks, timeTickLabels, 47, 'Time', 2.7),
    y: axis('left', -60, 1289, rpmTicks, rpmTickLabels, 69, 'RPM', 4.5),
    y2: axis('right', -87.5, 81.2, pitchTicks, pitchTickLabels, 75)
}, { top: 21, left: 0, right: 0, bottom: 0 }, {
    offsets: [timeOffset],
    rightTitle: { text: 'Pitch', gap: 52 },
    legend: { text: 'RPM', color: GREEN, width: 80 }
});

function trackDatasets(values, stops, range, startColor) {
    const points = trackLon.map((x, i) => ({ x, y: trackLat[i] }));
    return stack([
        {
            data: points, yAxisID: 'y', pointRadius: 0, borderWidth: 5.8, tension: 0.3,
            borderCapStyle: 'round', borderJoinStyle: 'round', borderColor: colorAt(stops, range, values[2]),
            segment: { borderColor: (c) => colorAt(stops, range, values[c.p0DataIndex]) }
        },
        dots(trackStart, startColor, 'y')
    ]);
}

const lonAxis = (size, title) => axis('bottom', -771.9, -255.1, lonTicks, lonTickLabels, size, title, 2.7);
const latAxis = (title) => axis('left', 17, 5233, latTicks, latTickLabels, 101, title, 31);

panel('trackAmpChart', trackDatasets(trackAmp, ampStops, ampRange, '#3c0912'), {
    x: lonAxis(48), y: latAxis()
}, { top: 21, left: 0, right: 14, bottom: 0 }, {
    offsets: [{ text: '+5.6440000000e1', align: 'left', above: true }, { text: '−5.2360000000', align: 'right' }]
});

panel('trackHaleChart', trackDatasets(trackHale, haleStops, haleRange, '#a6d75b'), {
    x: lonAxis(47, 'Longitude'), y: latAxis('Latitude')
}, { top: 21, left: 0, right: 14, bottom: 0 }, {
    offsets: [{ text: '+5.6440000000e1', align: 'left', above: true }, { text: '−5.2360000000', align: 'right' }]
});

function colorBar(id, range, stops, tickValues, tickLabels, axisSize) {
    return new Chart(document.getElementById(id), {
        type: 'bar',
        data: {
            labels: [''],
            datasets: [{
                data: [range],
                barPercentage: 1, categoryPercentage: 1,
                backgroundColor: (c) => {
                    const a = c.chart.chartArea;
                    if (!a) return stops[0];
                    const g = c.chart.ctx.createLinearGradient(0, a.bottom, 0, a.top);
                    stops.forEach((s, i) => g.addColorStop(i / (stops.length - 1), s));
                    return g;
                }
            }]
        },
        options: {
            responsive: false, animation: false,
            layout: { padding: { top: 21, left: 8, right: 0, bottom: 47 } },
            scales: {
                x: { display: false },
                y: axis('right', range[0], range[1], tickValues, tickLabels, axisSize)
            },
            plugins: { legend: { display: false }, tooltip: { enabled: false }, panelNotes: {} }
        },
        plugins: [panelNotes]
    });
}

colorBar('haleBar', haleRange, haleStops, haleTicks, haleTickLabels, 66);
colorBar('ampBar', ampRange, ampStops, ampTicks, ampTickLabels, 37);
</script>
</body>
</html>
